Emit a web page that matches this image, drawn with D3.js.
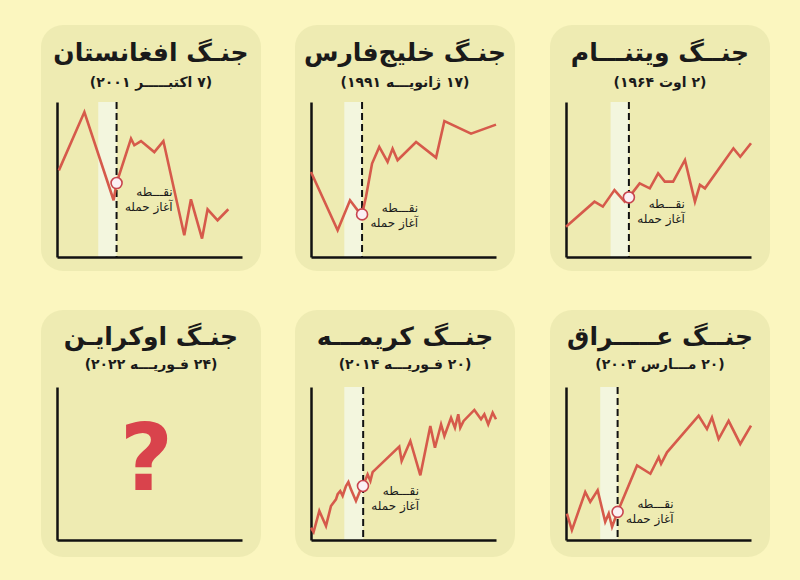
<!DOCTYPE html>
<html>
<head>
<meta charset="utf-8">
<script src="https://cdn.jsdelivr.net/npm/d3@7/dist/d3.min.js"></script>
<style>
  html, body { margin: 0; padding: 0; background: #fbf6bf; }
  svg { display: block; }
</style>
</head>
<body>
<svg id="chart" width="800" height="580"></svg>
<script>
// ---------- DATA (x: time 0..100, y: index 0..100) ----------
const titles = ["جنــگ ویتنـــام", "جنـگ خلیج‌فارس", "جنـگ افغانستان",
                "جنــگ عـــــراق", "جنــگ کریمـــه", "جنـگ اوکرایـن"];
const subtitles = ["(۲ اوت ۱۹۶۴)", "(۱۷ ژانویـــه ۱۹۹۱)", "(۷ اکتبـــــر ۲۰۰۱)",
                   "(۲۰ مـــارس ۲۰۰۳)", "(۲۰ فـوریـــه ۲۰۱۴)", "(۲۴ فـوریـــه ۲۰۲۲)"];
const annotationLines = ["نقـــطه", "آغاز حمله"];

const vietnamX = [0, 15.4, 19.9, 26.2, 31.7, 34.0, 39.8, 45.3, 49.8, 53.4, 57.9, 64.3, 69.7, 72.4, 75.1, 90.5, 94.2, 100];
const vietnamY = [19.5, 35.7, 32.5, 43.2, 35.7, 38.5, 47.5, 44.3, 54.0, 48.6, 48.6, 62.6, 35.7, 46.5, 44.3, 70.1, 64.7, 73.4];

const gulfX = [0, 14.4, 21.1, 25.2, 27.6, 29.7, 33.0, 36.9, 41.4, 44.1, 46.8, 56.8, 67.6, 72.1, 86.5, 100];
const gulfY = [54.8, 17.2, 36.6, 30.1, 27.5, 38.7, 60.3, 71.0, 61.3, 69.9, 62.4, 74.2, 64.1, 87.7, 79.6, 85.4];

const afghanX = [1, 14.8, 30.6, 32.2, 40.0, 41.8, 45.4, 52.6, 57.5, 68.8, 72.4, 78.4, 81.4, 86.8, 92.6];
const afghanY = [55.9, 93.5, 36.6, 47.7, 76.4, 72.1, 74.8, 67.7, 74.8, 14.0, 37.2, 11.9, 30.8, 23.7, 30.8];

const iraqX = [0.5, 3.2, 10.4, 13.1, 17.1, 21.2, 23.1, 24.9, 27.9, 38.4, 45.6, 50.1, 51.4, 54.6, 71.7, 76.2, 78.9, 82.5, 87.9, 94.2, 100];
const iraqY = [17.3, 6.5, 31.4, 24.9, 32.5, 11.9, 17.3, 8.6, 18.4, 48.7, 43.3, 54.1, 49.8, 57.3, 81.2, 72.5, 80.1, 66.0, 77.9, 62.8, 74.7];

const crimeaX = [0, 1.4, 4.5, 8.1, 10.8, 13.5, 14.4, 15.8, 17.1, 18.9, 20.2, 21.6, 24.3, 26.1, 28.1, 30.6, 32.1, 33.3, 47.7, 49.0, 53.7, 59.1, 64.5, 67.0, 70.3, 72.1, 75.7, 77.8, 79.6, 80.7, 82.5, 88.3, 91.9, 93.7, 95.8, 98.2, 100];
const crimeaY = [8.0, 5.2, 19.0, 9.2, 22.2, 26.6, 29.9, 32.0, 28.8, 35.3, 37.9, 33.1, 25.5, 30.9, 35.3, 42.9, 38.6, 44.4, 61.0, 51.6, 64.7, 42.3, 74.5, 60.3, 75.6, 68.0, 79.9, 73.4, 82.2, 73.4, 77.8, 85.0, 78.9, 82.2, 75.6, 83.2, 78.9];

const ukraineX = [];
const ukraineY = [];

const seriesX = [vietnamX, gulfX, afghanX, iraqX, crimeaX, ukraineX];
const seriesY = [vietnamY, gulfY, afghanY, iraqY, crimeaY, ukraineY];
const attackIndex = [5, 4, 3, 8, 14, null];      // point where the attack began
const attackX = [34.0, 27.6, 32.2, 27.9, 28.2, null];
const bandStartX = [24.1, 18.0, 22.3, 18.5, 18.0, null];

// ---------- LAYOUT ----------
const colAxisX = [566, 311, 57];   // right, middle, left columns
const rowPlot = [{top: 102, bottom: 257, pTop: 25, pBot: 271, tY: 52, sY: 82},
                 {top: 387, bottom: 540, pTop: 310, pBot: 557, tY: 336, sY: 364}];
const plotW = 185;
const labelDy = [7, -6, 9, -8, 5, 0];

const svg = d3.select("#chart");
const font = "'DejaVu Sans', sans-serif";
const lineColor = "#d65a4b";

for (let i = 0; i < 6; i++) {
  const row = rowPlot[Math.floor(i / 3)];
  const x0 = colAxisX[i % 3];
  const x = d3.scaleLinear().domain([0, 100]).range([x0, x0 + plotW]);
  const y = d3.scaleLinear().domain([0, 100]).range([row.bottom, row.top]);
  const g = svg.append("g");

  // panel background
  g.append("rect")
    .attr("x", x0 - 16).attr("y", row.pTop)
    .attr("width", plotW + 35).attr("height", row.pBot - row.pTop)
    .attr("rx", 22).attr("ry", 22)
    .attr("fill", "#eeebb2");

  const cx = x0 - 16 + (plotW + 35) / 2;
  g.append("text")
    .attr("x", cx).attr("y", row.tY)
    .attr("direction", "rtl").attr("text-anchor", "middle")
    .attr("dominant-baseline", "central")
    .attr("font-family", font).attr("font-weight", "bold")
    .attr("font-size", 25).attr("fill", "#1a1a1a")
    .text(titles[i]);
  g.append("text")
    .attr("x", cx).attr("y", row.sY)
    .attr("direction", "rtl").attr("text-anchor", "middle")
    .attr("dominant-baseline", "central")
    .attr("font-family", font).attr("font-weight", "bold")
    .attr("font-size", 14).attr("fill", "#1a1a1a")
    .text(subtitles[i]);

  // attack band + dashed line
  if (attackX[i] !== null) {
    g.append("rect")
      .attr("x", x(bandStartX[i])).attr("y", row.top)
      .attr("width", x(attackX[i]) - x(bandStartX[i]))
      .attr("height", row.bottom - row.top)
      .attr("fill", "#f3f6de");
  }

  // axes
  const yAxis = d3.axisLeft(y).ticks(0).tickSizeOuter(0);
  const xAxis = d3.axisBottom(x).ticks(0).tickSizeOuter(0);
  const ya = g.append("g").attr("transform", `translate(${x0},0)`).call(yAxis);
  const xa = g.append("g").attr("transform", `translate(0,${row.bottom})`).call(xAxis);
  [ya, xa].forEach(a => a.select(".domain").attr("stroke", "#111").attr("stroke-width", 2.5));

  if (attackX[i] !== null) {
    g.append("line")
      .attr("x1", x(attackX[i])).attr("x2", x(attackX[i]))
      .attr("y1", row.top).attr("y2", row.bottom)
      .attr("stroke", "#111").attr("stroke-width", 2)
      .attr("stroke-dasharray", "7,4");
  }

  const pts = seriesX[i].map((v, k) => [v, seriesY[i][k]]);
  if (pts.length) {
    g.append("path")
      .datum(pts)
      .attr("fill", "none")
      .attr("stroke", lineColor)
      .attr("stroke-width", 2.6)
      .attr("stroke-linejoin", "miter")
      .attr("d", d3.line().x(d => x(d[0])).y(d => y(d[1])));

    const m = pts[attackIndex[i]];
    const mx = x(m[0]), my = y(m[1]);
    g.append("circle")
      .attr("cx", mx).attr("cy", my).attr("r", 5.5)
      .attr("fill", "#fbf0f4").attr("stroke", "#c8454e").attr("stroke-width", 1.6);

    annotationLines.forEach((t, k) => {
      g.append("text")
        .attr("x", mx + 56).attr("y", my + labelDy[i] + k * 15)
        .attr("direction", "rtl").attr("text-anchor", "start")
        .attr("dominant-baseline", "central")
        .attr("font-family", font).attr("font-size", 12)
        .attr("fill", "#1a1a1a")
        .text(t);
    });
  } else {
    g.append("text")
      .attr("x", (x.range()[0] + x.range()[1]) / 2 - 3)
      .attr("y", 490)
      .attr("text-anchor", "middle")
      .attr("font-family", font).attr("font-weight", "bold")
      .attr("font-size", 92).attr("fill", "#d9434c")
      .text("?");
  }
}
</script>
</body>
</html>
